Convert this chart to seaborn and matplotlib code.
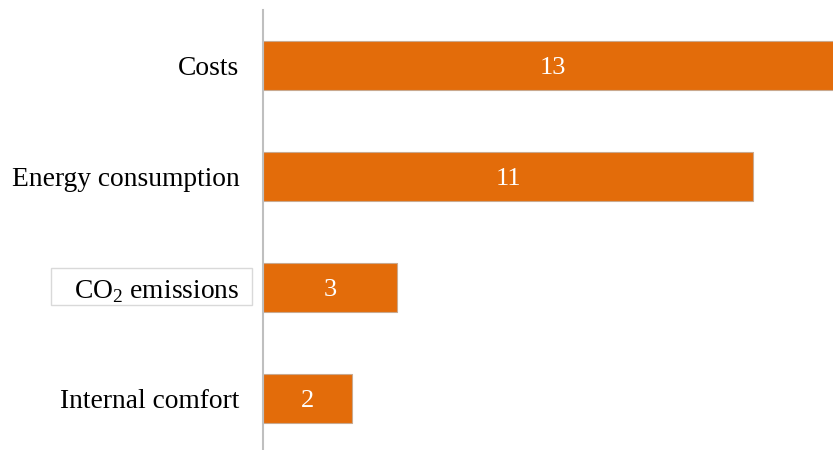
import matplotlib
matplotlib.use("Agg")
import matplotlib.pyplot as plt
from matplotlib.patches import Rectangle
import seaborn as sns
import pandas as pd

categories = ["Costs", "Energy consumption", "CO$_\\mathregular{2}$ emissions", "Internal comfort"]
counts = [13, 11, 3, 2]

sns.set_theme(style="white")
plt.rcParams["font.family"] = ["Liberation Serif", "DejaVu Serif"]
plt.rcParams["mathtext.fontset"] = "custom"
plt.rcParams["mathtext.rm"] = "Liberation Serif"

df = pd.DataFrame({"category": categories, "count": counts})

W, H = 833, 450
fig = plt.figure(figsize=(W / 100, H / 100), dpi=100)
ax = fig.add_axes([263 / W, 0, 1 - 263 / W, 1 - 10 / H])

bar_color = "#E36C0A"
sns.barplot(data=df, x="count", y="category", orient="h", color=bar_color,
            saturation=1, width=0.44, edgecolor="#C9A98F", linewidth=0.8, ax=ax)

ax.set_xlim(0, 12.79)
ax.set_ylim(3.46, -0.5)
ax.set_xlabel("")
ax.set_ylabel("")
ax.set_xticks([])
ax.tick_params(axis="y", length=0, pad=17, labelsize=19.8, labelcolor="black")

for s in ["top", "right", "bottom"]:
    ax.spines[s].set_visible(False)
ax.spines["left"].set_color("#BFBFBF")
ax.spines["left"].set_linewidth(1.5)

for i, v in enumerate(counts):
    ax.text(v / 2, i, str(v), ha="center", va="center_baseline", color="white", fontsize=19)

# frame around the emissions label
fig.patches.append(Rectangle((51 / W, 1 - 305 / H), (252 - 51) / W, (305 - 268) / H,
                             transform=fig.transFigure, facecolor="none",
                             edgecolor="#D9D9D9", linewidth=1.0))

fig.savefig("out.png", dpi=100)
